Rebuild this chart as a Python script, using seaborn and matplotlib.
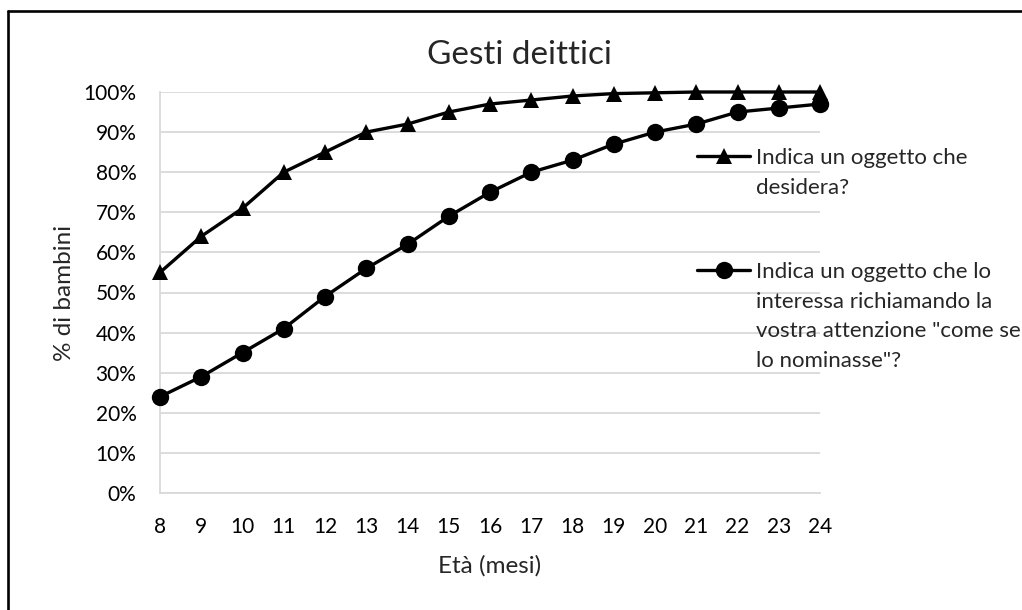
import matplotlib
matplotlib.use("Agg")
import matplotlib.pyplot as plt
import matplotlib.ticker as mticker
from matplotlib.lines import Line2D
import seaborn as sns
import pandas as pd

eta = [8, 9, 10, 11, 12, 13, 14, 15, 16, 17, 18, 19, 20, 21, 22, 23, 24]
desidera = [55, 64, 71, 80, 85, 90, 92, 95, 97, 98, 99, 99.6, 99.8, 100, 100, 100, 100]
interessa = [24, 29, 35, 41, 49, 56, 62, 69, 75, 80, 83, 87, 90, 92, 95, 96, 97]
label_desidera = "Indica un oggetto che\ndesidera?"
label_interessa = ("Indica un oggetto che lo\ninteressa richiamando la\n"
                   "vostra attenzione \"come se\nlo nominasse\"?")
title = "Gesti deittici"
xlabel = "Età (mesi)"
ylabel = "% di bambini"

sns.set_theme(style="white")
plt.rcParams["font.family"] = ["Lato", "DejaVu Sans"]

W, H = 1022, 610
fig = plt.figure(figsize=(W / 100, H / 100), dpi=100)
ax = fig.add_axes([160 / W, 1 - 493 / H, (820 - 160) / W, (493 - 92) / H])

sns.lineplot(x=eta, y=desidera, ax=ax, color="black", marker="^", markersize=11.5,
             linewidth=2.4, label=label_desidera, markeredgewidth=0, zorder=3, clip_on=False)
sns.lineplot(x=eta, y=interessa, ax=ax, color="black", marker="o", markersize=12.5,
             linewidth=2.4, label=label_interessa, markeredgewidth=0, zorder=3, clip_on=False)

ax.set_xlim(8, 24)
ax.set_ylim(0, 100)
ax.set_xticks(eta)
ax.set_yticks(range(0, 101, 10))
ax.yaxis.set_major_formatter(mticker.PercentFormatter(xmax=100, decimals=0))
ax.tick_params(axis="both", length=0, labelsize=15, colors="black", pad=17)
ax.grid(axis="y", color="#d9d9d9", linewidth=1.3)
ax.grid(axis="x", visible=False)
ax.set_axisbelow(True)
for s in ["top", "right"]:
    ax.spines[s].set_visible(False)
for s in ["left", "bottom"]:
    ax.spines[s].set_color("#d9d9d9")
    ax.spines[s].set_linewidth(1.3)

ax.set_xlabel(xlabel, fontsize=17.5, labelpad=13)
ax.set_ylabel(ylabel, fontsize=17.5, labelpad=6)
fig.text(519 / W, 1 - 55 / H, title, ha="center", va="center", fontsize=24)

handles, labels = ax.get_legend_handles_labels()
leg = ax.legend(handles, labels, loc="upper left", bbox_to_anchor=(697 / W, 1 - 148 / H),
                bbox_transform=fig.transFigure, frameon=False, borderaxespad=0, borderpad=0,
                fontsize=16, handlelength=2.4, handletextpad=0.25, labelspacing=2.9)
for t in leg.get_texts():
    t.set_linespacing(1.6)
try:
    for col in leg._legend_handle_box.get_children():
        for row in col.get_children():
            row.align = "top"
except Exception:
    pass

fig.add_artist(Line2D([7.5 / W, 7.5 / W], [0, 1 - 10.5 / H], color="black", linewidth=1.9,
                      transform=fig.transFigure))
fig.add_artist(Line2D([7.5 / W, 1], [1 - 10.5 / H, 1 - 10.5 / H], color="black", linewidth=1.9,
                      transform=fig.transFigure))

fig.savefig("out.png", dpi=100, facecolor="white")
